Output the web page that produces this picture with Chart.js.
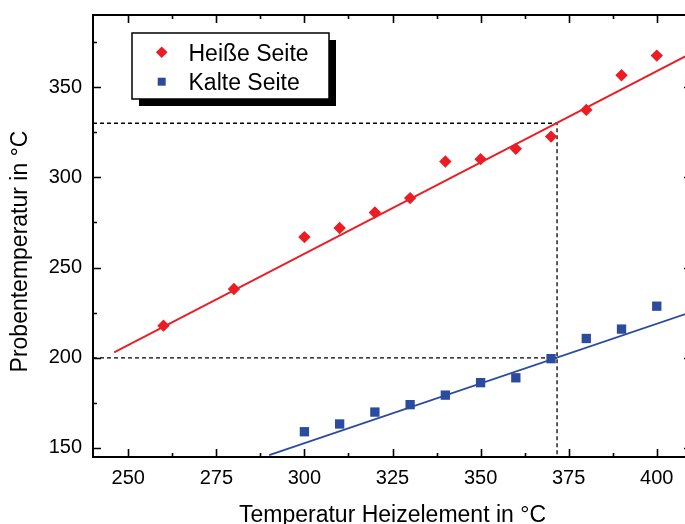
<!DOCTYPE html>
<html>
<head>
<meta charset="utf-8">
<title>Probentemperatur</title>
<script src="https://cdn.jsdelivr.net/npm/chart.js@4"></script>
<style>
  html, body { margin: 0; padding: 0; background: #fff; overflow: hidden; }
  #wrap { width: 700px; height: 524px; }
</style>
</head>
<body>
<div id="wrap"><canvas id="tempChart" width="700" height="524"></canvas></div>
<script>
// measured sample temperatures vs. heater temperature (°C)
const hotX = [260, 280, 300, 310, 320, 330, 340, 350, 360, 370, 380, 390, 400];
const hotY = [217.8, 238.1, 266.9, 271.9, 280.5, 288.5, 308.8, 310.1, 315.8, 322.6, 337.4, 356.6, 367.5];
const coldX = [300, 310, 320, 330, 340, 350, 360, 370, 380, 390, 400];
const coldY = [159, 163.3, 169.9, 174, 179.3, 186.2, 188.9, 199.5, 210.7, 215.9, 228.6];

// linear fits (end points)
const hotFitX = [246, 410];
const hotFitY = [203, 369];
const coldFitX = [290, 410];
const coldFitY = [146, 225.5];

// read-off at the operating point
const readX = 371.7;
const readHot = 330;
const readCold = 200;

// axes
const xMin = 240, xMax = 410;
const yMin = 145, yMax = 390;
const xTicks = [250, 275, 300, 325, 350, 375, 400];
const xMinor = [262.5, 287.5, 312.5, 337.5, 362.5, 387.5];
const yTicks = [150, 200, 250, 300, 350];
const yMinor = [175, 225, 275, 325, 375];

const RED = '#ec1c24';
const BLUE = '#2b4c9e';
const FONT = '"Liberation Sans", Arial, sans-serif';

const pts = (xs, ys) => xs.map((x, i) => ({ x, y: ys[i] }));

// box, inward ticks, axis titles and the shadowed legend
const framePlugin = {
  id: 'frame',
  afterDraw(chart) {
    const { ctx, chartArea: a, scales: { x, y } } = chart;
    ctx.save();
    ctx.strokeStyle = '#000';

    ctx.lineWidth = 1.6;
    ctx.beginPath();
    const tickX = (vals, len) => vals.forEach(v => {
      const px = Math.round(x.getPixelForValue(v)) + 0.5;
      ctx.moveTo(px, a.bottom); ctx.lineTo(px, a.bottom - len);
      ctx.moveTo(px, a.top); ctx.lineTo(px, a.top + len);
    });
    const tickY = (vals, len) => vals.forEach(v => {
      const py = Math.round(y.getPixelForValue(v)) + 0.5;
      ctx.moveTo(a.left, py); ctx.lineTo(a.left + len, py);
      ctx.moveTo(a.right, py); ctx.lineTo(a.right - len, py);
    });
    tickX(xTicks, 8); tickX(xMinor, 4);
    tickY(yTicks, 8); tickY(yMinor, 4);
    ctx.stroke();

    ctx.lineWidth = 2;
    ctx.strokeRect(a.left, a.top, a.right - a.left, a.bottom - a.top);

    // axis titles
    ctx.fillStyle = '#000';
    ctx.font = '23px ' + FONT;
    ctx.textAlign = 'center';
    ctx.textBaseline = 'alphabetic';
    ctx.fillText('Temperatur Heizelement in °C', (a.left + a.right) / 2, 521.5);
    ctx.save();
    ctx.translate(21, 251.5);
    ctx.rotate(-Math.PI / 2);
    ctx.textBaseline = 'middle';
    ctx.fillText('Probentemperatur in °C', 0, 0);
    ctx.restore();

    // legend
    const bx = 132, by = 33, bw = 197, bh = 66;
    ctx.fillStyle = '#000';
    ctx.fillRect(bx + 7, by + 7, bw, bh);
    ctx.fillStyle = '#fff';
    ctx.fillRect(bx, by, bw, bh);
    ctx.lineWidth = 1.5;
    ctx.strokeRect(bx, by, bw, bh);

    const ds = chart.data.datasets;
    ctx.fillStyle = ds[0].backgroundColor;
    ctx.beginPath();
    ctx.moveTo(161.7, 52.3 - 5.8); ctx.lineTo(161.7 + 5.8, 52.3);
    ctx.lineTo(161.7, 52.3 + 5.8); ctx.lineTo(161.7 - 5.8, 52.3);
    ctx.closePath(); ctx.fill();
    ctx.fillStyle = ds[1].backgroundColor;
    ctx.fillRect(161.7 - 4, 81.7 - 4, 8, 8);

    ctx.fillStyle = '#000';
    ctx.textAlign = 'left';
    ctx.textBaseline = 'alphabetic';
    ctx.fillText(ds[0].label, 188.5, 61);
    ctx.fillText(ds[1].label, 188.5, 90);
    ctx.restore();
  }
};

// keep the plot box where the layout puts it, ignoring label overhang
const noOverhang = s => {
  s.paddingTop = 0; s.paddingBottom = 0;
  s.paddingLeft = 0; s.paddingRight = 0;
};

const ctx = document.getElementById('tempChart').getContext('2d');
new Chart(ctx, {
  type: 'scatter',
  data: {
    datasets: [
      {
        label: 'Heiße Seite',
        data: pts(hotX, hotY),
        pointStyle: 'rectRot',
        pointRadius: 6.2,
        backgroundColor: RED,
        borderColor: RED,
        borderWidth: 0
      },
      {
        label: 'Kalte Seite',
        data: pts(coldX, coldY),
        pointStyle: 'rect',
        pointRadius: 6.6,
        backgroundColor: BLUE,
        borderColor: BLUE,
        borderWidth: 0
      },
      {
        label: 'Fit heiß',
        data: pts(hotFitX, hotFitY),
        showLine: true,
        pointRadius: 0,
        borderColor: RED,
        borderWidth: 1.8
      },
      {
        label: 'Fit kalt',
        data: pts(coldFitX, coldFitY),
        showLine: true,
        pointRadius: 0,
        borderColor: BLUE,
        borderWidth: 1.8
      },
      {
        label: 'Ablesung heiß',
        data: [{ x: xMin, y: readHot }, { x: readX, y: readHot }, { x: readX, y: yMin }],
        showLine: true,
        pointRadius: 0,
        borderColor: '#000',
        borderWidth: 1.3,
        borderDash: [4, 3]
      },
      {
        label: 'Ablesung kalt',
        data: [{ x: xMin, y: readCold }, { x: readX, y: readCold }],
        showLine: true,
        pointRadius: 0,
        borderColor: '#000',
        borderWidth: 1.3,
        borderDash: [4, 3]
      }
    ]
  },
  options: {
    responsive: false,
    animation: false,
    events: [],
    layout: { padding: { top: 15, right: 8, left: 0, bottom: 0 } },
    plugins: {
      legend: { display: false },
      tooltip: { enabled: false }
    },
    scales: {
      x: {
        type: 'linear',
        min: xMin,
        max: xMax,
        grid: { display: false, drawTicks: false },
        border: { display: false },
        afterBuildTicks: s => { s.ticks = xTicks.map(v => ({ value: v })); },
        afterFit: s => { s.height = 67; noOverhang(s); },
        ticks: { padding: 9, color: '#000', font: { family: FONT, size: 20 } }
      },
      y: {
        type: 'linear',
        min: yMin,
        max: yMax,
        grid: { display: false, drawTicks: false },
        border: { display: false },
        afterBuildTicks: s => { s.ticks = yTicks.map(v => ({ value: v })); },
        afterFit: s => { s.width = 93; noOverhang(s); },
        ticks: { padding: 11, color: '#000', font: { family: FONT, size: 20 } }
      }
    }
  },
  plugins: [framePlugin]
});
</script>
</body>
</html>
